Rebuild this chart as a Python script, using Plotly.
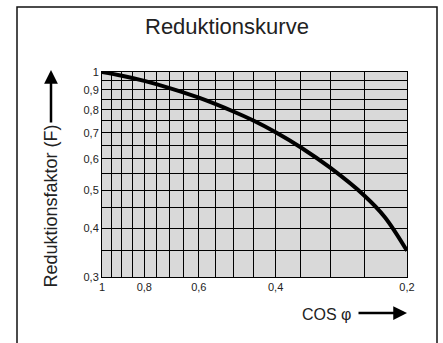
import plotly.graph_objects as go
import math

# Data
cos_phi = [1.0, 0.9, 0.8, 0.7, 0.6, 0.5, 0.45, 0.4, 0.35, 0.3, 0.25, 0.225, 0.2]
factor_f = [1.0, 0.978, 0.949, 0.910, 0.860, 0.793, 0.752, 0.702, 0.642, 0.570, 0.483, 0.427, 0.350]

x_grid = [1.0, 0.95, 0.9, 0.85, 0.8, 0.75, 0.7, 0.65, 0.6, 0.55, 0.5, 0.45, 0.4, 0.35, 0.3, 0.25, 0.2]
x_labels = ["1", "", "", "", "0,8", "", "", "", "0,6", "", "", "", "0,4", "", "", "", "0,2"]
y_grid = [1.0, 0.95, 0.9, 0.85, 0.8, 0.75, 0.7, 0.65, 0.6, 0.55, 0.5, 0.45, 0.4, 0.35, 0.3]
y_labels = ["1", "", "0,9", "", "0,8", "", "0,7", "", "0,6", "", "0,5", "", "0,4", "", "0,3"]

title_text = "Reduktionskurve"
y_title = "Reduktionsfaktor (F)"
x_title = "COS φ"

W, H = 443, 343
L, R, T, B = 102, 407, 72, 277  # plot area in px

def px(xp):
    return (xp - L) / (R - L)

def py(yp):
    return (B - yp) / (B - T)

font = "Liberation Sans, Arial, sans-serif"

fig = go.Figure()
fig.add_trace(go.Scatter(
    x=cos_phi, y=factor_f, mode="lines",
    line=dict(color="black", width=4, shape="spline", smoothing=1.0),
    cliponaxis=False, hoverinfo="skip", showlegend=False,
))

fig.update_layout(
    width=W, height=H,
    margin=dict(l=L, r=W - R, t=T, b=H - B),
    paper_bgcolor="white",
    plot_bgcolor="#d9d9d9",
    showlegend=False,
    font=dict(family=font, color="#222222", size=11),
    xaxis=dict(
        type="log", range=[0, math.log10(0.2)],
        tickmode="array", tickvals=x_grid, ticktext=x_labels,
        showgrid=True, gridcolor="black", gridwidth=1,
        showline=True, linecolor="black", linewidth=1, mirror=True,
        ticks="", tickfont=dict(size=11, family=font, color="#222222"),
        zeroline=False, fixedrange=True,
    ),
    yaxis=dict(
        type="log", range=[math.log10(0.3), 0],
        tickmode="array", tickvals=y_grid, ticktext=y_labels,
        showgrid=True, gridcolor="black", gridwidth=1,
        showline=True, linecolor="black", linewidth=1, mirror=True,
        ticks="", tickfont=dict(size=11, family=font, color="#222222"),
        zeroline=False, fixedrange=True,
    ),
    shapes=[dict(
        type="rect", xref="paper", yref="paper",
        x0=px(17), x1=px(437), y0=py(360), y1=py(7),
        line=dict(color="#111111", width=1.5), fillcolor="rgba(0,0,0,0)",
        layer="below",
    )],
)

# Title
fig.add_annotation(
    text=title_text, xref="paper", yref="paper",
    x=px(227), y=py(26), xanchor="center", yanchor="middle",
    showarrow=False, font=dict(size=22, family=font, color="#222222"),
)
# Y title (rotated)
fig.add_annotation(
    text=y_title, xref="paper", yref="paper",
    x=px(50.5), y=py(206), xanchor="center", yanchor="middle",
    textangle=-90, showarrow=False,
    font=dict(size=18, family=font, color="#222222"),
)
# Y arrow
fig.add_annotation(
    text="", xref="paper", yref="paper",
    x=px(51), y=py(70), ax=0, ay=54, axref="pixel", ayref="pixel",
    showarrow=True, arrowhead=2, arrowsize=1.1, arrowwidth=2.5, arrowcolor="black",
)
# X title
fig.add_annotation(
    text=x_title, xref="paper", yref="paper",
    x=px(327), y=py(314), xanchor="center", yanchor="middle",
    showarrow=False, font=dict(size=16, family=font, color="#222222"),
)
# X arrow
fig.add_annotation(
    text="", xref="paper", yref="paper",
    x=px(407), y=py(313), ax=-50, ay=0, axref="pixel", ayref="pixel",
    showarrow=True, arrowhead=2, arrowsize=1.1, arrowwidth=2.5, arrowcolor="black",
)

fig.write_html(
    "out.html",
    config={"displayModeBar": False, "staticPlot": True},
    post_script="document.body.style.margin='0';document.body.style.padding='0';",
)
